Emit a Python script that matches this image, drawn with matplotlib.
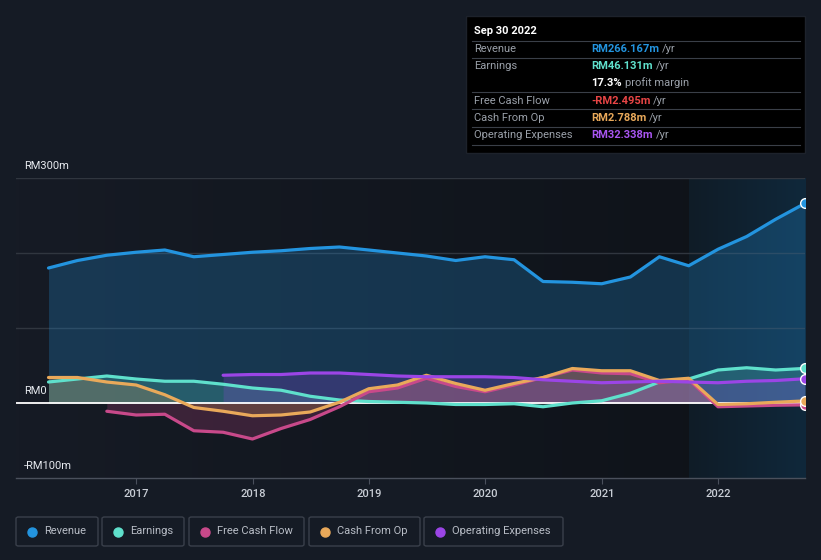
import matplotlib
matplotlib.use("Agg")
import matplotlib.pyplot as plt
import matplotlib.dates as mdates
import numpy as np
import pandas as pd
from matplotlib.patches import Rectangle, FancyBboxPatch
from matplotlib.lines import Line2D
from matplotlib.colors import LinearSegmentedColormap

plt.rcParams['font.family'] = ['Roboto', 'DejaVu Sans']

quarters = ["2016-03-31", "2016-06-30", "2016-09-30", "2016-12-31",
            "2017-03-31", "2017-06-30", "2017-09-30", "2017-12-31",
            "2018-03-31", "2018-06-30", "2018-09-30", "2018-12-31",
            "2019-03-31", "2019-06-30", "2019-09-30", "2019-12-31",
            "2020-03-31", "2020-06-30", "2020-09-30", "2020-12-31",
            "2021-03-31", "2021-06-30", "2021-09-30", "2021-12-31",
            "2022-03-31", "2022-06-30", "2022-09-30"]

revenue = [180, 190, 197, 201, 204, 195, 198, 201, 203, 206, 208, 204, 200,
           196, 190, 195, 191, 162, 161, 159, 168, 195, 183, 205, 222, 245, 266.167]
earnings = [28, 32, 36, 32, 29, 29, 25, 20, 17, 9, 4, 2, 1, 0, -2, -2, -1,
            -5, 0, 3, 13, 28, 32, 44, 47, 44, 46.131]
# Free cash flow starts 2016-09-30
fcf = [-11, -16, -15, -37, -39, -48, -34, -22, -5, 15, 20, 33, 22, 15, 24,
       34, 44, 40, 39, 27, 31, -5, -4, -3, -2.495]
cfo = [34, 34, 28, 24, 11, -6, -11, -17, -16, -12, 1, 19, 24, 37, 26, 17,
       26, 34, 46, 43, 43, 30, 33, -2, -1, 1, 2.788]
# Operating expenses start 2017-09-30
opex = [37, 38, 38, 40, 40, 38, 36, 35, 35, 35, 34, 31, 29, 27, 28, 29, 28,
        27, 29, 30, 32.338]

yticks = [-100, 0, 300]
ytick_labels = ["-RM100m", "RM0", "RM300m"]
xtick_years = ["2017", "2018", "2019", "2020", "2021", "2022"]

legend_names = ["Revenue", "Earnings", "Free Cash Flow", "Cash From Op", "Operating Expenses"]
C_REV, C_EARN, C_FCF, C_CFO, C_OPEX = "#2394df", "#5fe0cc", "#c8498a", "#e9a95a", "#9b45e6"
colors = [C_REV, C_EARN, C_FCF, C_CFO, C_OPEX]

W, H = 821, 560
BG = "#151b25"
fig = plt.figure(figsize=(W / 100, H / 100), dpi=100, facecolor=BG)

def fx(px):
    return px / W

def fy(py):
    return 1 - py / H

ax_l, ax_r, ax_t, ax_b = 16, 805, 178, 478
ax = fig.add_axes([fx(ax_l), fy(ax_b), fx(ax_r - ax_l), (ax_b - ax_t) / H])
ax.set_facecolor("#12171f")

dates = pd.to_datetime(quarters)
x_all = mdates.date2num(dates)
x_fcf = x_all[len(x_all) - len(fcf):]
x_opex = x_all[len(x_all) - len(opex):]

xmin = mdates.date2num(pd.Timestamp("2015-12-20"))
xmax = mdates.date2num(pd.Timestamp("2022-09-30"))

# background gradient
grad = np.linspace(0, 1, 256).reshape(1, -1)
cmap_bg = LinearSegmentedColormap.from_list("bg", ["#161b25", "#0e1218"])
ax.imshow(grad, extent=[0, 1, 0, 1], transform=ax.transAxes, cmap=cmap_bg,
          aspect="auto", zorder=0)
# highlight region (last year)
hl_start = mdates.date2num(pd.Timestamp("2021-09-30"))
cmap_hl = LinearSegmentedColormap.from_list("hl", ["#0f1c27", "#10283b"])
ax.imshow(grad, extent=[hl_start, xmax, -100, 300], cmap=cmap_hl,
          aspect="auto", zorder=0.5)
ax.set_xlim(xmin, xmax)
ax.set_ylim(-100, 300)

for gy in [100, 200, 300]:
    ax.axhline(gy, color="#30363f", lw=1, zorder=1)

# fills
ax.fill_between(x_all, revenue, 0, color=C_REV, alpha=0.25, lw=0, zorder=2)
ax.fill_between(x_all, earnings, 0, color=C_EARN, alpha=0.22, lw=0, zorder=2)
ax.fill_between(x_fcf, fcf, 0, color=C_FCF, alpha=0.22, lw=0, zorder=2)
ax.fill_between(x_all, cfo, 0, color=C_CFO, alpha=0.22, lw=0, zorder=2)
ax.fill_between(x_opex, opex, 0, color=C_OPEX, alpha=0.22, lw=0, zorder=2)

ax.axhline(0, color="white", lw=1.3, zorder=3)

lw = 2.3
kw = dict(lw=lw, solid_joinstyle="round", solid_capstyle="round")
ax.plot(x_all, revenue, color=C_REV, zorder=4, **kw)
ax.plot(x_all, earnings, color=C_EARN, zorder=4, **kw)
ax.plot(x_fcf, fcf, color=C_FCF, zorder=4, **kw)
ax.plot(x_all, cfo, color=C_CFO, zorder=5, **kw)
ax.plot(x_opex, opex, color=C_OPEX, zorder=5, **kw)

for xs, ys, c in [(x_all, revenue, C_REV), (x_all, earnings, C_EARN), (x_fcf, fcf, C_FCF),
                  (x_all, cfo, C_CFO), (x_opex, opex, C_OPEX)]:
    ax.plot(xs[-1], ys[-1], "o", ms=7, mfc=c, mec="white", mew=1, zorder=6)

for s in ["top", "right", "left"]:
    ax.spines[s].set_visible(False)
ax.spines["bottom"].set_color("#4a505c")
ax.spines["bottom"].set_linewidth(1)
ax.set_yticks([])
xt = [mdates.date2num(pd.Timestamp(y + "-01-01")) for y in xtick_years]
ax.set_xticks(xt)
ax.set_xticklabels(xtick_years, color="#c9ced6", fontsize=8, fontweight="medium")
ax.tick_params(axis="x", length=4, color="#4a505c", pad=4)

# y labels
ylab_pos = {300: 166, 0: 391, -100: 466}
for v, lab in zip(yticks, ytick_labels):
    fig.text(fx(24), fy(ylab_pos[v]), lab, color="#e6e9ee", fontsize=8,
             va="center", ha="left")

# tooltip box
fig.patches.append(Rectangle((fx(466), fy(153)), fx(805 - 466), (153 - 16) / H,
                             transform=fig.transFigure, facecolor="#000000",
                             edgecolor="#1d222b", lw=1, zorder=10))
fig.text(fx(474), fy(31), "Sep 30 2022", color="white", fontsize=8,
         fontweight="bold", va="center", zorder=11)
for ly in [41, 58, 92, 109, 127, 145]:
    fig.add_artist(Line2D([fx(472), fx(800)], [fy(ly), fy(ly)], color="#3a3f48",
                          lw=0.8, zorder=11))
TF = 8
rows = [("Revenue", "RM266.167m", C_REV, 49),
        ("Earnings", "RM46.131m", C_EARN, 66),
        ("Free Cash Flow", "-RM2.495m", "#e84545", 101),
        ("Cash From Op", "RM2.788m", C_CFO, 118),
        ("Operating Expenses", "RM32.338m", "#a855f0", 135)]
for lab, val, c, ry in rows:
    fig.text(fx(474), fy(ry), lab, color="#9aa0a9", fontsize=TF, va="center", zorder=11)
    t = fig.text(fx(591), fy(ry), val, color=c, fontsize=TF, fontweight="bold",
                 va="center", zorder=11)
    fig.canvas.draw()
    bb = t.get_window_extent()
    fig.text(bb.x1 / W + fx(3), fy(ry), "/yr", color="#9aa0a9", fontsize=TF,
             va="center", zorder=11)
t = fig.text(fx(591), fy(83), "17.3%", color="white", fontsize=TF, fontweight="bold",
             va="center", zorder=11)
fig.canvas.draw()
bb = t.get_window_extent()
fig.text(bb.x1 / W + fx(3), fy(83), "profit margin", color="#9aa0a9", fontsize=TF,
         va="center", zorder=11)

# legend boxes
boxes = [(16, 98), (102, 184), (189, 304), (309, 420), (424, 563)]
for (x0, x1), name, c in zip(boxes, legend_names, colors):
    fig.patches.append(FancyBboxPatch((fx(x0), fy(546)), fx(x1 - x0), 29 / H,
                                      boxstyle="round,pad=0,rounding_size=0.003",
                                      transform=fig.transFigure, facecolor=BG,
                                      edgecolor="#3a404b", lw=1))
    fig.add_artist(Line2D([fx(x0 + 16)], [fy(531.5)], marker="o", ms=6.5,
                          color=c, mec=c, transform=fig.transFigure))
    fig.text(fx(x0 + 28), fy(531.5), name, color="#b8bdc6", fontsize=8,
             va="center", ha="left")

fig.savefig("out.png", dpi=100, facecolor=BG)
